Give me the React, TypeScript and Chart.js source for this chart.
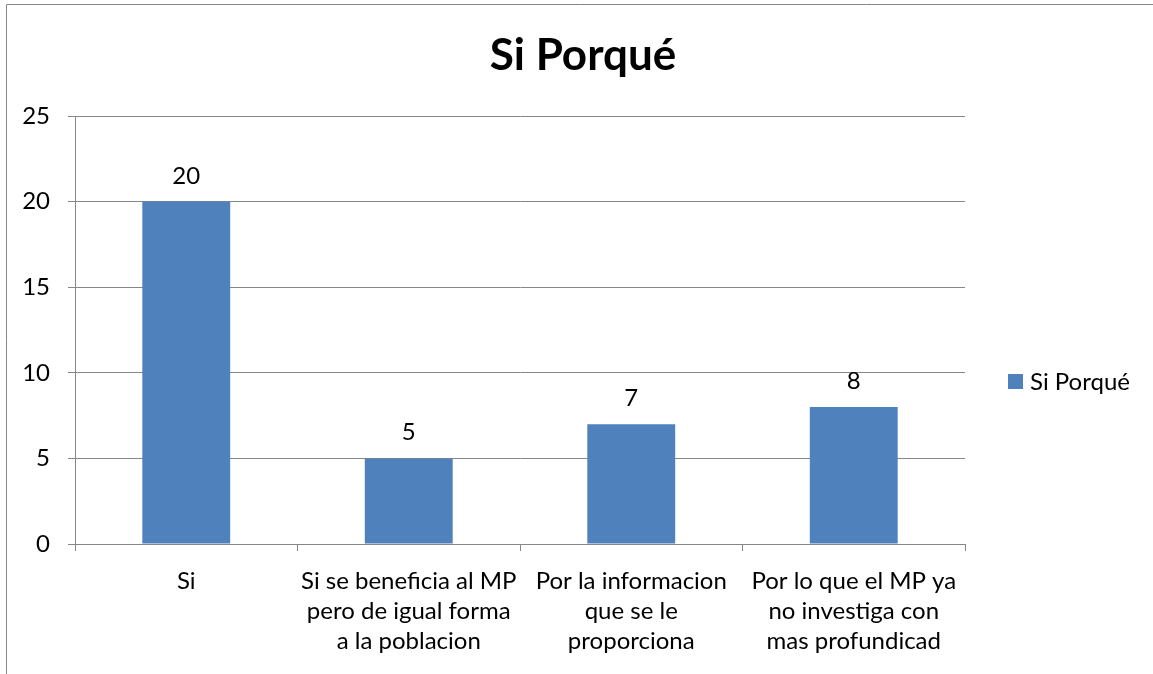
import React, { useEffect, useRef } from "react";
import { Chart, registerables } from "chart.js";

Chart.register(...registerables);

const TITLE = "Si Porqué";
const SERIES_LABEL = "Si Porqué";
const CATEGORIES: (string | string[])[] = [
  "Si",
  ["Si se beneficia al MP", "pero de igual forma", "a la poblacion"],
  ["Por la informacion", "que se le", "proporciona"],
  ["Por lo que el MP ya", "no investiga con", "mas profundicad"],
];
const VALUES = [20, 5, 7, 8];
const Y_MIN = 0;
const Y_MAX = 25;
const Y_STEP = 5;

const BAR_COLOR = "#4F81BD";
const GRID_COLOR = "#878787";
const FONT = "Lato, 'Open Sans', sans-serif";

const extrasPlugin = {
  id: "extras",
  beforeDraw(chart: any) {
    const ctx = chart.ctx;
    ctx.save();
    ctx.strokeStyle = GRID_COLOR;
    ctx.lineWidth = 1;
    ctx.beginPath();
    ctx.moveTo(6.5, chart.height);
    ctx.lineTo(6.5, 4.5);
    ctx.lineTo(chart.width, 4.5);
    ctx.stroke();
    ctx.restore();
  },
  afterDraw(chart: any) {
    const ctx = chart.ctx;
    ctx.save();
    // title
    ctx.font = `bold 44px ${FONT}`;
    ctx.fillStyle = "#000";
    ctx.textAlign = "center";
    ctx.textBaseline = "alphabetic";
    ctx.fillText(TITLE, 583, 70);
    // value labels
    const meta = chart.getDatasetMeta(0);
    ctx.font = `24px ${FONT}`;
    meta.data.forEach((bar: any, i: number) => {
      ctx.fillText(String(chart.data.datasets[0].data[i]), bar.x, bar.y - 18);
    });
    // legend
    const ds = chart.data.datasets[0];
    ctx.fillStyle = ds.backgroundColor;
    ctx.fillRect(1008, 374, 15, 15);
    ctx.fillStyle = "#000";
    ctx.textAlign = "left";
    ctx.textBaseline = "alphabetic";
    ctx.fillText(ds.label, 1030, 390);
    ctx.restore();
  },
};

export default function App() {
  const ref = useRef<HTMLCanvasElement>(null);
  useEffect(() => {
    if (!ref.current) return;
    const chart = new Chart(ref.current, {
      type: "bar",
      data: {
        labels: CATEGORIES,
        datasets: [
          {
            label: SERIES_LABEL,
            data: VALUES,
            backgroundColor: BAR_COLOR,
            categoryPercentage: 1,
            barPercentage: 0.395,
          },
        ],
      },
      options: {
        animation: false,
        responsive: false,
        maintainAspectRatio: false,
        layout: { padding: { left: 0, right: 188, top: 116, bottom: 0 } },
        plugins: {
          legend: { display: false },
          tooltip: { enabled: false },
          title: { display: false },
        },
        scales: {
          x: {
            offset: true,
            grid: {
              offset: true,
              drawOnChartArea: false,
              drawTicks: true,
              tickLength: 7,
              color: GRID_COLOR,
            },
            border: { color: GRID_COLOR },
            ticks: {
              color: "#000",
              font: { family: FONT, size: 24, lineHeight: 1.25 },
              padding: 15,
              maxRotation: 0,
              autoSkip: false,
            },
            afterFit(scale: any) {
              scale.height = 130;
            },
          },
          y: {
            min: Y_MIN,
            max: Y_MAX,
            grid: { color: GRID_COLOR, tickLength: 7 },
            border: { color: GRID_COLOR },
            ticks: {
              stepSize: Y_STEP,
              color: "#000",
              font: { family: FONT, size: 24 },
              padding: 18,
            },
            afterFit(scale: any) {
              scale.width = 75;
            },
          },
        },
      },
      plugins: [extrasPlugin],
    });
    return () => chart.destroy();
  }, []);
  return (
    <div style={{ position: "fixed", left: 0, top: 0, width: 1153, height: 674, background: "#fff" }}>
      <canvas ref={ref} width={1153} height={674} style={{ display: "block" }} />
    </div>
  );
}
